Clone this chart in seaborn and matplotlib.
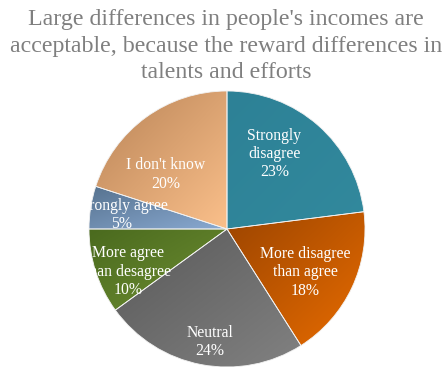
import numpy as np
import matplotlib
matplotlib.use("Agg")
import matplotlib.pyplot as plt
import matplotlib.colors as mcolors
import seaborn as sns

sns.set_theme(style="white")
SERIF = ["Liberation Serif", "DejaVu Serif"]
plt.rcParams["font.family"] = SERIF

# Survey answers, clockwise from the top
categories = ["Strongly\ndisagree", "More disagree\nthan agree", "Neutral",
              "More agree\nthan desagree", "Strongly agree", "I don't know"]
shares = [23, 18, 24, 10, 5, 20]
title = ("Large differences in people's incomes are\n"
         "acceptable, because the reward differences in\n"
         "talents and efforts")

# Gradient fill per slice: (upper-left shade, lower-right shade)
shades = [("#2d8196", "#32899d"),
          ("#9c4500", "#e86c00"),
          ("#595959", "#828282"),
          ("#4a6a1e", "#6e8e32"),
          ("#56728f", "#8aaad2"),
          ("#b98457", "#fbc08b")]
# Label placement: fraction of radius and angular nudge (degrees, clockwise)
label_radius = [0.66, 0.64, 0.81, 0.77, 0.77, 0.61]
label_nudge = [-10, 2.0, -2, -4, 0, -11]

W, H = 446, 367
fig = plt.figure(figsize=(W / 100, H / 100), dpi=100)
cx, cy, R = 227, 229, 138
ax = fig.add_axes([(cx - R) / W, (H - cy - R) / H, 2 * R / W, 2 * R / H])
ax.axis("off")

wedges, _ = ax.pie(shares, startangle=90, counterclock=False, radius=1,
                   wedgeprops=dict(edgecolor="#f2f2f2", linewidth=0.6))

n = 200
for w, (c0, c1) in zip(wedges, shades):
    verts = w.get_path().vertices
    x0, y0 = verts.min(axis=0)
    x1, y1 = verts.max(axis=0)
    gx, gy = np.meshgrid(np.linspace(0, 1, n), np.linspace(1, 0, n))
    t = (gx + (1 - gy)) / 2
    a = np.array(mcolors.to_rgb(c0))
    b = np.array(mcolors.to_rgb(c1))
    img = a[None, None, :] * (1 - t[..., None]) + b[None, None, :] * t[..., None]
    im = ax.imshow(img, extent=(x0, x1, y0, y1), origin="upper",
                   interpolation="bilinear", zorder=0.5)
    im.set_clip_path(w)
    w.set_facecolor("none")
    w.set_zorder(1)
ax.set_xlim(-1, 1)
ax.set_ylim(-1, 1)
ax.set_aspect("equal")

for w, lab, val, r, d in zip(wedges, categories, shares, label_radius, label_nudge):
    mid = np.deg2rad((w.theta1 + w.theta2) / 2 - d)
    tx, ty = r * np.cos(mid), r * np.sin(mid) - 0.02
    txt = ax.text(tx, ty, f"{lab}\n{val}%", ha="center", va="center",
                  color="white", fontsize=11.3, linespacing=1.2, zorder=3,
                  family=SERIF)
    txt.set_clip_on(True)

fig.text(226 / W, 1 - 9 / H, title, ha="center", va="top", fontsize=17.2,
         color="#7f7f7f", linespacing=1.35, family=SERIF)

fig.savefig("out.png", dpi=100)
